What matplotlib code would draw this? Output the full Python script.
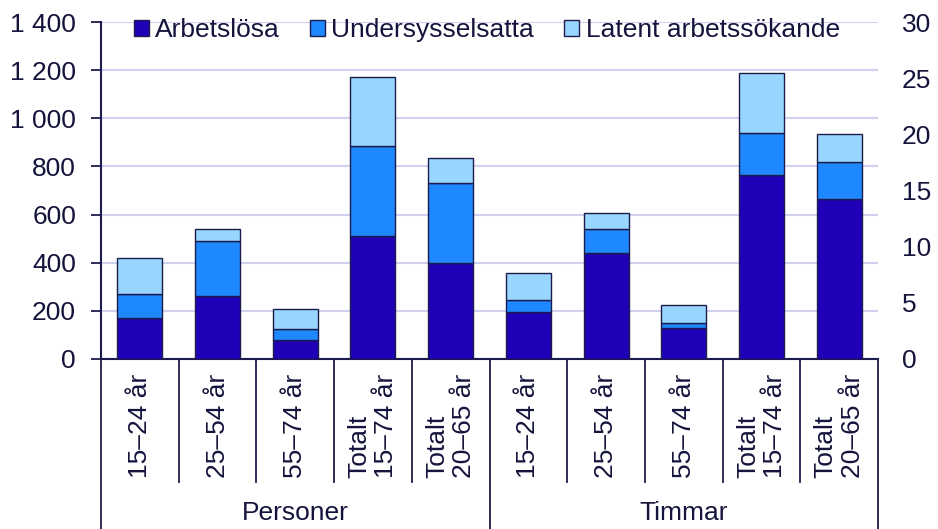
import matplotlib
matplotlib.use("Agg")
import matplotlib.pyplot as plt
import matplotlib.transforms as mtransforms
import numpy as np

plt.rcParams['font.family'] = ['Liberation Sans', 'DejaVu Sans']

# Personer (tusental, vänster axel) och Timmar (miljoner, höger axel)
categories = ["15–24 år", "25–54 år", "55–74 år", "Totalt\n15–74 år", "Totalt\n20–65 år"]
groups = ["Personer", "Timmar"]
series = ["Arbetslösa", "Undersysselsatta", "Latent arbetssökande"]

personer_arbetslosa = [170, 260, 80, 510, 400]
personer_under = [100, 230, 43, 375, 333]
personer_latent = [150, 50, 85, 288, 100]

timmar_arbetslosa = [4.2, 9.4, 2.8, 16.4, 14.2]
timmar_under = [1.05, 2.2, 0.4, 3.7, 3.3]
timmar_latent = [2.45, 1.4, 1.6, 5.4, 2.5]

left_ticks = [0, 200, 400, 600, 800, 1000, 1200, 1400]
left_ticklabels = ["0", "200", "400", "600", "800", "1 000", "1 200", "1 400"]
right_ticks = [0, 5, 10, 15, 20, 25, 30]

colors = ["#2000B6", "#1E88FF", "#99D6FF"]
edge = "#1c1c4c"
txt = "#14143c"
fs = 19

fig = plt.figure(figsize=(9.38, 5.29), dpi=100)
ax = fig.add_axes([101/938, 1 - 359/529, 777/938, 337/529])
ax2 = ax.twinx()

width = 0.58
xp = np.arange(5)
xt = np.arange(5, 10)

bottom = np.zeros(5)
for vals, c, name in zip([personer_arbetslosa, personer_under, personer_latent], colors, series):
    ax.bar(xp, vals, width, bottom=bottom, color=c, edgecolor=edge, linewidth=1, label=name, zorder=3)
    bottom += np.array(vals)

bottom = np.zeros(5)
for vals, c in zip([timmar_arbetslosa, timmar_under, timmar_latent], colors):
    ax2.bar(xt, vals, width, bottom=bottom, color=c, edgecolor=edge, linewidth=1, zorder=3)
    bottom += np.array(vals)

ax.set_xlim(-0.5, 9.5)
ax.set_ylim(0, 1400)
ax2.set_ylim(0, 30)

ax.set_yticks(left_ticks)
ax.set_yticklabels(left_ticklabels)
ax2.set_yticks(right_ticks)
ax.grid(axis='y', color="#d0d0f0", linewidth=1.5, zorder=0)
ax.set_axisbelow(True)

ax.tick_params(axis='y', direction='out', length=7, width=1.3, color=edge,
               labelsize=fs, labelcolor=txt, pad=11)
ax2.tick_params(axis='y', length=0, labelsize=fs, labelcolor=txt, pad=17)
ax.set_xticks([])

for a in (ax, ax2):
    for s in ("top", "right"):
        a.spines[s].set_visible(False)
ax2.spines["left"].set_visible(False)
ax2.spines["bottom"].set_visible(False)
ax.spines["left"].set_color(edge)
ax.spines["left"].set_linewidth(1.5)
ax.spines["bottom"].set_color(edge)
ax.spines["bottom"].set_linewidth(1.5)

# category separators and labels below the axis
trans = mtransforms.blended_transform_factory(ax.transData, ax.transAxes)
for b in np.arange(-0.5, 10, 1.0):
    low = -0.505 if b in (-0.5, 4.5, 9.5) else -0.365
    ax.plot([b, b], [0, low], transform=trans, color=edge, lw=1.3, clip_on=False)

for i in range(10):
    ax.text(i, -0.045, categories[i % 5], transform=trans, rotation=90,
            ha='center', va='top', multialignment='left',
            fontsize=fs, color=txt, linespacing=1.15)

for g, xc in zip(groups, [2, 7]):
    ax.text(xc, -0.457, g, transform=trans, ha='center', va='center',
            fontsize=fs, color=txt)

leg = ax.legend(loc='center left', bbox_to_anchor=(134/938, 1 - 30/529),
                bbox_transform=fig.transFigure, ncol=3, frameon=False,
                fontsize=fs, handlelength=0.55, handleheight=0.55,
                handletextpad=0.25, columnspacing=1.15, borderpad=0, borderaxespad=0)
for t in leg.get_texts():
    t.set_color(txt)

fig.savefig("out.png", dpi=100)
